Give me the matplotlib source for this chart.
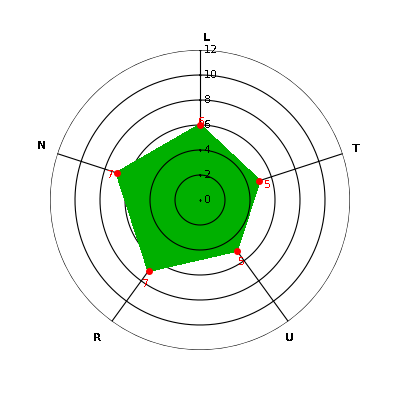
import numpy as np
import matplotlib.pyplot as plt

plt.rcParams['text.antialiased'] = False

categories = ['L', 'T', 'U', 'R', 'N']
values = [6, 5, 5, 7, 7]
rings = [2, 4, 6, 8, 10, 12]
tick_labels = ['0', '2', '4', '6', '8', '10', '12']
# pixel nudges of the red value labels and the axis names
label_offsets = [(2, 3), (8, -4), (5, -11), (-3, -13), (-6, -2)]
name_offsets = [(7, -2), (0, 0), (-7, -6), (-7, -6), (-3, 3)]

n = len(categories)
angles = np.arange(n) * 2 * np.pi / n

fig = plt.figure(figsize=(4, 4), dpi=100)
ax = fig.add_axes([0.125, 0.125, 0.75, 0.75], projection='polar')
ax.set_theta_zero_location('N')
ax.set_theta_direction(-1)
ax.set_ylim(0, 12)
ax.grid(False)
ax.set_xticks([])
ax.set_yticks([])
ax.spines['polar'].set_visible(False)

full = np.linspace(0, 2 * np.pi, 400)
for r in rings:
    z = 4 if r <= 4 else 1
    ax.plot(full, [r] * len(full), color='black', lw=0.8, zorder=z)

for a in angles:
    ax.plot([a, a], [0, 12], color='black', lw=0.8, zorder=1)

ax.fill(angles, values, color='#00b000', zorder=2, antialiased=False)
ax.plot(angles, values, 'o', color='red', ms=4, zorder=5)

for i, v in enumerate(values):
    ax.annotate(str(v), (angles[i], v), xytext=label_offsets[i], textcoords='offset pixels',
                ha='center', va='center', color='red', fontsize=8, zorder=6)

for i, t in enumerate(tick_labels):
    ax.annotate(t, (0, i * 2), xytext=(4, 0), textcoords='offset pixels',
                ha='left', va='center', color='black', fontsize=8, zorder=6)
ax.plot([0] * len(tick_labels), [i * 2 for i in range(len(tick_labels))], '_', color='black',
        ms=1.5, mew=0.8, zorder=4)

for a, c, off in zip(angles, categories, name_offsets):
    ax.annotate(c, (a, 13.1), xytext=off, textcoords='offset pixels', annotation_clip=False,
                ha='center', va='center', fontsize=8, fontweight='bold')

fig.savefig('out.png', dpi=100)
